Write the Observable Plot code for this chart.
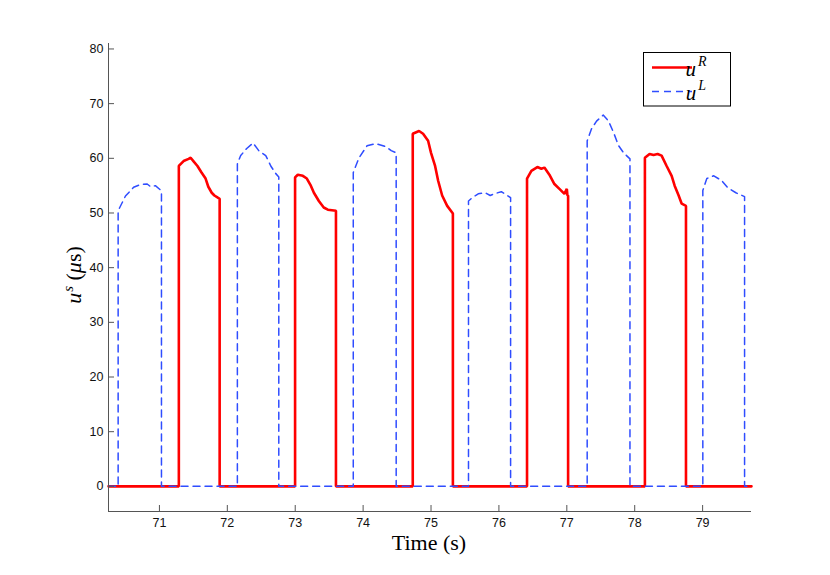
<!DOCTYPE html>
<html><head><meta charset="utf-8">
<script src="https://cdn.jsdelivr.net/npm/d3@7"></script>
<script src="https://cdn.jsdelivr.net/npm/@observablehq/plot@0.6"></script>
<style>body{margin:0;background:#fff} #wrap{position:relative;width:830px;height:575px}</style>
</head><body><div id="wrap"></div>
<script>
const xDomain = [70.25, 79.72];
const yDomain = [-4.6, 81];
const xTicks = [71, 72, 73, 74, 75, 76, 77, 78, 79];
const yTicks = [0, 10, 20, 30, 40, 50, 60, 70, 80];

const redTime = [70.25,71.286,71.286,71.356,71.43,71.46,71.50,71.56,71.62,71.68,71.72,71.77,71.81,71.86,71.887,71.887,
 72.998,72.998,73.038,73.112,73.171,73.23,73.275,73.348,73.42,73.48,73.60,73.60,
 74.731,74.731,74.824,74.883,74.957,75.00,75.06,75.105,75.164,75.238,75.322,75.322,
 76.414,76.414,76.478,76.566,76.625,76.67,76.743,76.817,76.891,76.965,77.00,77.009,77.019,77.019,
 78.15,78.15,78.219,78.278,78.337,78.396,78.47,78.544,78.588,78.647,78.692,78.755,78.755,79.72];
const redValue = [0,0,58.6,59.5,59.9,60.1,59.5,58.6,57.4,56.3,54.8,53.7,53.2,52.8,52.6,0,
 0,56.5,57.0,56.8,56.3,55.0,53.7,52.2,51.0,50.6,50.4,0,
 0,64.5,65.0,64.5,63.2,61.0,58.6,55.9,53.2,51.3,49.9,0,
 0,56.3,57.7,58.4,58.1,58.3,57.0,55.3,54.4,53.5,54.4,53.2,53.2,0,
 0,60.1,60.8,60.6,60.8,60.5,58.6,56.8,55.0,53.2,51.7,51.3,0,0];

const blueTime = [70.25,70.392,70.392,70.50,70.62,70.72,70.82,70.87,70.94,71.016,71.03,71.03,
 72.148,72.148,72.197,72.286,72.379,72.463,72.566,72.64,72.714,72.758,72.758,
 73.855,73.855,73.94,74.058,74.19,74.34,74.414,74.487,74.487,
 75.552,75.552,75.607,75.695,75.799,75.872,75.931,76.035,76.172,76.172,
 77.30,77.30,77.364,77.438,77.536,77.615,77.689,77.763,77.836,77.93,77.93,
 79.003,79.003,79.062,79.165,79.283,79.372,79.49,79.618,79.618,79.72];
const blueValue = [0,0,50.4,53.1,54.7,55.2,55.3,54.8,55.0,54.2,54.0,0,
 0,59.0,60.5,61.8,62.8,61.4,60.5,58.6,57.2,56.6,0,
 0,57.4,60.1,62.3,62.7,62.1,61.4,61.0,0,
 0,52.2,52.8,53.5,53.7,53.2,53.5,53.9,52.8,0,
 0,63.2,65.4,66.8,67.9,66.8,64.7,62.3,61.0,59.9,0,
 0,54.1,56.3,56.8,55.9,54.6,53.7,53.0,0,0];

const red = redTime.map((t, i) => ({t, v: redValue[i]}));
const blue = blueTime.map((t, i) => ({t, v: blueValue[i]}));

const axisColor = "#555";
const plot = Plot.plot({
  width: 830, height: 575,
  marginLeft: 108, marginRight: 79, marginTop: 43, marginBottom: 64,
  x: {domain: xDomain},
  y: {domain: yDomain},
  style: {fontFamily: "'Liberation Sans', Arial, sans-serif", fontSize: "12.5px", color: "#111", background: "#fff"},
  marks: [
    Plot.line(red, {x: "t", y: "v", stroke: "#ff0000", strokeWidth: 2.6, strokeLinejoin: "miter"}),
    Plot.line(blue, {x: "t", y: "v", stroke: "#2f4dff", strokeWidth: 1.5, strokeDasharray: "7,5"}),
    Plot.ruleX([xDomain[0]], {stroke: axisColor}),
    Plot.ruleY([yDomain[0]], {stroke: axisColor}),
    Plot.axisX(xTicks, {tickSize: 0, tickPadding: 7, label: null, tickFormat: d => String(d)}),
    Plot.axisX(xTicks, {tickSize: -6, fill: "none", stroke: axisColor, label: null}),
    Plot.axisY(yTicks, {tickSize: 0, tickPadding: 5, label: null, tickFormat: d => String(d)}),
    Plot.axisY(yTicks, {tickSize: -6, fill: "none", stroke: axisColor, label: null})
  ]
});
document.getElementById("wrap").appendChild(plot);

const svg = d3.select(plot);
const serif = "'Liberation Serif', 'DejaVu Serif', serif";
// x label
svg.append("text").attr("x", 429).attr("y", 550).attr("text-anchor", "middle")
  .attr("font-family", serif).attr("font-size", 22).attr("fill", "#000").text("Time (s)");
// y label
const yl = svg.append("text").attr("transform", "translate(81,275) rotate(-90)")
  .attr("text-anchor", "middle").attr("font-family", serif).attr("font-size", 22).attr("fill", "#000");
yl.append("tspan").attr("font-style", "italic").text("u");
yl.append("tspan").attr("font-style", "italic").attr("font-size", 15).attr("dx", 1).attr("dy", -8).text("s");
yl.append("tspan").attr("dy", 8).text(" (");
yl.append("tspan").attr("font-style", "italic").text("μ");
yl.append("tspan").text("s)");

// legend
const lg = svg.append("g");
lg.append("rect").attr("x", 643.5).attr("y", 52.5).attr("width", 87).attr("height", 53.5)
  .attr("fill", "#fff").attr("stroke", "#000").attr("stroke-width", 1);
const legendItems = [
  {name: "R", stroke: "#ff0000", width: 2.6, dash: null, y: 67.5},
  {name: "L", stroke: "#2f4dff", width: 1.5, dash: "7,5", y: 91.5}
];
legendItems.forEach(it => {
  lg.append("line").attr("x1", 652).attr("x2", 692).attr("y1", it.y).attr("y2", it.y)
    .attr("stroke", it.stroke).attr("stroke-width", it.width).attr("stroke-dasharray", it.dash);
  const t = lg.append("text").attr("x", 696).attr("y", it.y + 8).attr("font-family", serif)
    .attr("font-size", 21).attr("fill", "#000");
  t.append("tspan").attr("font-style", "italic").text("u");
  t.append("tspan").attr("font-style", "italic").attr("font-size", 14).attr("dx", 2).attr("dy", -10).text(it.name);
});
</script>
</body></html>
